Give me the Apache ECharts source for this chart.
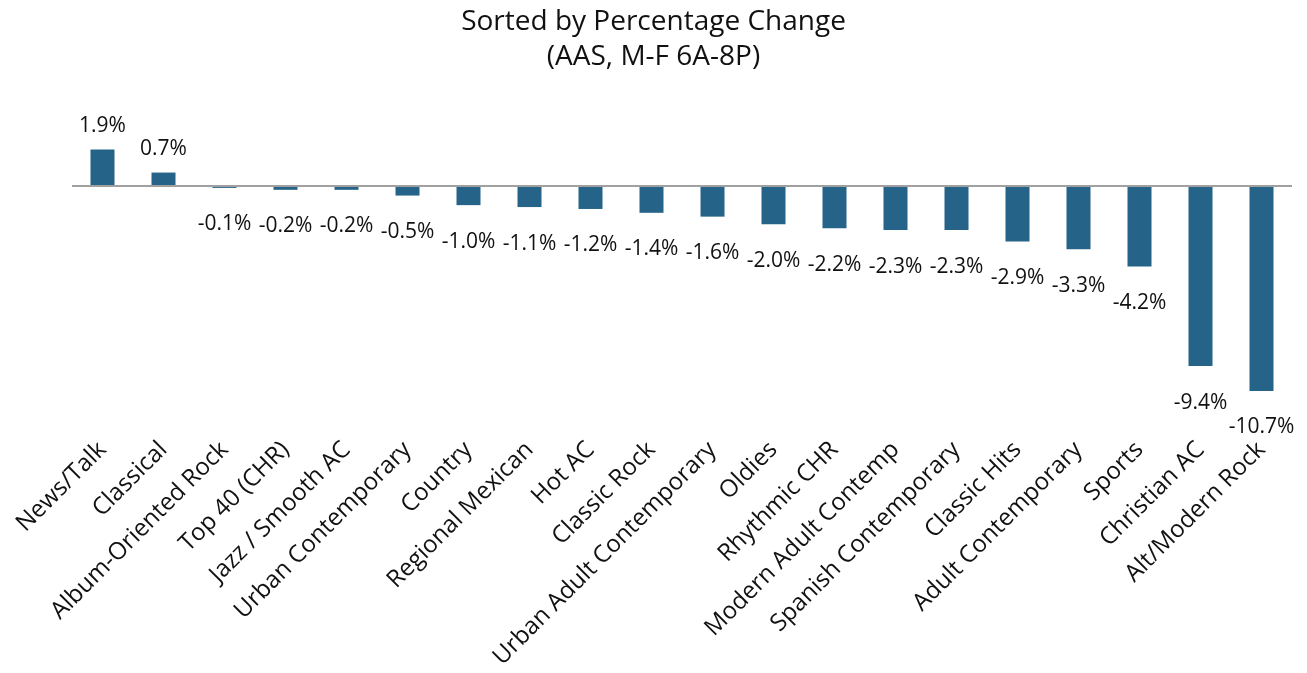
<!DOCTYPE html>
<html>
<head>
<meta charset="utf-8">
<script src="https://cdn.jsdelivr.net/npm/echarts@6/dist/echarts.min.js"></script>
<style>html,body{margin:0;padding:0;background:#fff;}#c{width:1307px;height:673px;}</style>
</head>
<body>
<div id="c"></div>
<script>
const categories = ["News/Talk","Classical","Album-Oriented Rock","Top 40 (CHR)","Jazz / Smooth AC","Urban Contemporary","Country","Regional Mexican","Hot AC","Classic Rock","Urban Adult Contemporary","Oldies","Rhythmic CHR","Modern Adult Contemp","Spanish Contemporary","Classic Hits","Adult Contemporary","Sports","Christian AC","Alt/Modern Rock"];
const values = [1.9,0.7,-0.1,-0.2,-0.2,-0.5,-1.0,-1.1,-1.2,-1.4,-1.6,-2.0,-2.2,-2.3,-2.3,-2.9,-3.3,-4.2,-9.4,-10.7];
const titleLines = ["Sorted by Percentage Change","(AAS, M-F 6A-8P)"];

const FONT = "Open Sans";
const chart = echarts.init(document.getElementById('c'), null, {renderer:'canvas'});
const data = values.map(v => ({
  value: v,
  label: v >= 0 ? {position:'top', distance: 13} : {position:'bottom', distance: 26}
}));
chart.setOption({
  animation: false,
  title: {
    text: titleLines.join('\n'),
    left: 'center', top: 0,
    textStyle: {fontFamily: FONT, fontSize: 28, fontWeight: 'normal', color: '#111', lineHeight: 35}
  },
  grid: {left: 72, width: 1220, top: 128.5, height: 287.4, containLabel: false},
  xAxis: {
    type: 'category', data: categories,
    axisLine: {show: false, onZero: false}, axisTick: {show: false},
    axisLabel: {rotate: 45, interval: 0, margin: 30, fontFamily: FONT, fontSize: 24, color: '#111'}
  },
  yAxis: {type: 'value', min: -12, max: 3, show: false, splitLine: {show: false}},
  series: [{
    type: 'bar', data: data, barWidth: 24,
    itemStyle: {color: '#256388'},
    label: {show: true, formatter: p => p.value.toFixed(1) + '%', fontFamily: FONT, fontSize: 21, color: '#111'},
    markLine: {
      silent: true, symbol: 'none', label: {show: false},
      lineStyle: {color: '#a0a0a0', width: 2, type: 'solid'},
      data: [{yAxis: 0}]
    }
  }]
});
</script>
</body>
</html>
